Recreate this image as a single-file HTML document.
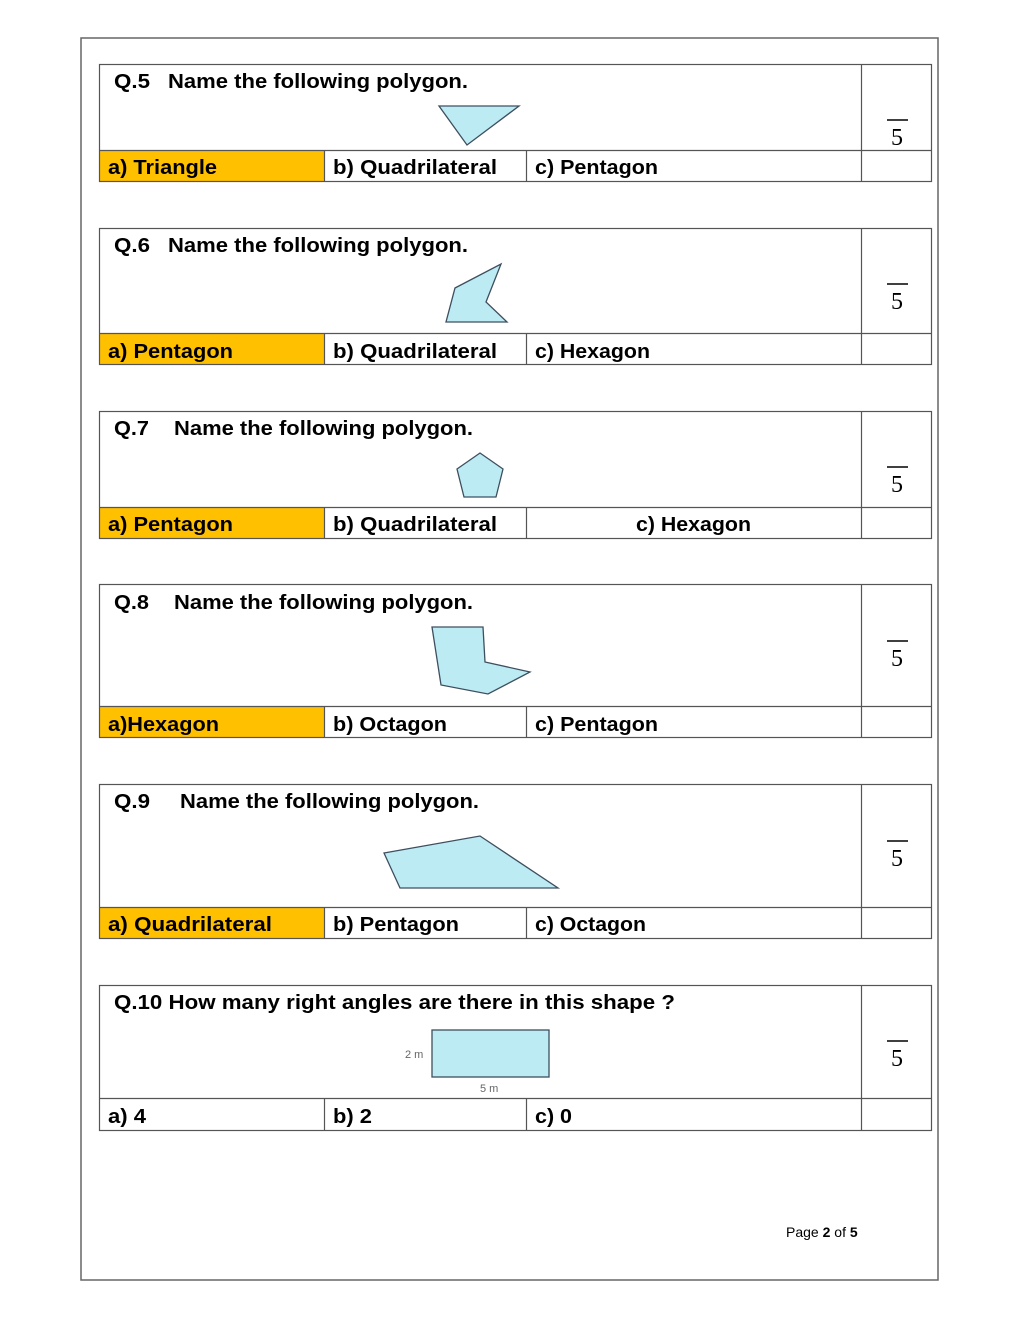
<!DOCTYPE html>
<html><head><meta charset="utf-8"><style>
html,body{margin:0;padding:0;background:#fff;}
svg{display:block;}
text{font-family:"Liberation Sans",sans-serif;font-weight:bold;fill:#000;}
.q{font-size:20px;}
.a{font-size:20px;}
.s{font-family:"Liberation Serif",serif;font-weight:normal;font-size:24px;}
.sh{fill:#BDEBF4;stroke:#3d4f5f;stroke-width:1.3;}
.ln{stroke:#555;stroke-width:1.2;fill:none;}
</style></head><body>
<svg width="1020" height="1320" viewBox="0 0 1020 1320" xmlns="http://www.w3.org/2000/svg">
<rect x="81" y="38" width="857" height="1242" fill="none" stroke="#666" stroke-width="1.5"/>

<!-- Q5 -->
<rect x="100" y="150" width="224" height="31" fill="#FFC000"/>
<rect x="99.5" y="64.5" width="832" height="117" class="ln"/>
<line x1="861.5" y1="64" x2="861.5" y2="181" class="ln"/>
<line x1="99" y1="150.5" x2="931" y2="150.5" class="ln"/>
<line x1="324.5" y1="150" x2="324.5" y2="181" class="ln"/>
<line x1="526.5" y1="150" x2="526.5" y2="181" class="ln"/>
<text x="114" y="88" class="q" textLength="36" lengthAdjust="spacingAndGlyphs">Q.5</text>
<text x="168" y="88" class="q" textLength="300" lengthAdjust="spacingAndGlyphs">Name the following polygon.</text>
<polygon points="439,106 519,106 467,145" class="sh"/>
<text x="108" y="174" class="a" textLength="109" lengthAdjust="spacingAndGlyphs">a) Triangle</text>
<text x="333" y="174" class="a" textLength="164" lengthAdjust="spacingAndGlyphs">b) Quadrilateral</text>
<text x="535" y="174" class="a" textLength="123" lengthAdjust="spacingAndGlyphs">c) Pentagon</text>
<line x1="887" y1="120" x2="908" y2="120" stroke="#000" stroke-width="1.5"/>
<text x="897" y="145" class="s" text-anchor="middle">5</text>

<!-- Q6 -->
<rect x="100" y="333" width="224" height="31" fill="#FFC000"/>
<rect x="99.5" y="228.5" width="832" height="136" class="ln"/>
<line x1="861.5" y1="228" x2="861.5" y2="364" class="ln"/>
<line x1="99" y1="333.5" x2="931" y2="333.5" class="ln"/>
<line x1="324.5" y1="333" x2="324.5" y2="364" class="ln"/>
<line x1="526.5" y1="333" x2="526.5" y2="364" class="ln"/>
<text x="114" y="252" class="q" textLength="36" lengthAdjust="spacingAndGlyphs">Q.6</text>
<text x="168" y="252" class="q" textLength="300" lengthAdjust="spacingAndGlyphs">Name the following polygon.</text>
<polygon points="501,264 486,302 507,322 446,322 455,288" class="sh"/>
<text x="108" y="358" class="a" textLength="125" lengthAdjust="spacingAndGlyphs">a) Pentagon</text>
<text x="333" y="358" class="a" textLength="164" lengthAdjust="spacingAndGlyphs">b) Quadrilateral</text>
<text x="535" y="358" class="a" textLength="115" lengthAdjust="spacingAndGlyphs">c) Hexagon</text>
<line x1="887" y1="284" x2="908" y2="284" stroke="#000" stroke-width="1.5"/>
<text x="897" y="309" class="s" text-anchor="middle">5</text>

<!-- Q7 -->
<rect x="100" y="507" width="224" height="31" fill="#FFC000"/>
<rect x="99.5" y="411.5" width="832" height="127" class="ln"/>
<line x1="861.5" y1="411" x2="861.5" y2="538" class="ln"/>
<line x1="99" y1="507.5" x2="931" y2="507.5" class="ln"/>
<line x1="324.5" y1="507" x2="324.5" y2="538" class="ln"/>
<line x1="526.5" y1="507" x2="526.5" y2="538" class="ln"/>
<text x="114" y="435" class="q" textLength="35" lengthAdjust="spacingAndGlyphs">Q.7</text>
<text x="174" y="435" class="q" textLength="299" lengthAdjust="spacingAndGlyphs">Name the following polygon.</text>
<polygon points="480,453 503,469 496,497 464,497 457,469" class="sh"/>
<text x="108" y="531" class="a" textLength="125" lengthAdjust="spacingAndGlyphs">a) Pentagon</text>
<text x="333" y="531" class="a" textLength="164" lengthAdjust="spacingAndGlyphs">b) Quadrilateral</text>
<text x="636" y="531" class="a" textLength="115" lengthAdjust="spacingAndGlyphs">c) Hexagon</text>
<line x1="887" y1="467" x2="908" y2="467" stroke="#000" stroke-width="1.5"/>
<text x="897" y="492" class="s" text-anchor="middle">5</text>

<!-- Q8 -->
<rect x="100" y="706" width="224" height="31" fill="#FFC000"/>
<rect x="99.5" y="584.5" width="832" height="153" class="ln"/>
<line x1="861.5" y1="584" x2="861.5" y2="737" class="ln"/>
<line x1="99" y1="706.5" x2="931" y2="706.5" class="ln"/>
<line x1="324.5" y1="706" x2="324.5" y2="737" class="ln"/>
<line x1="526.5" y1="706" x2="526.5" y2="737" class="ln"/>
<text x="114" y="609" class="q" textLength="35" lengthAdjust="spacingAndGlyphs">Q.8</text>
<text x="174" y="609" class="q" textLength="299" lengthAdjust="spacingAndGlyphs">Name the following polygon.</text>
<polygon points="432,627 483,627 485,662 530,672 488,694 441,685" class="sh"/>
<text x="108" y="731" class="a" textLength="111" lengthAdjust="spacingAndGlyphs">a)Hexagon</text>
<text x="333" y="731" class="a" textLength="114" lengthAdjust="spacingAndGlyphs">b) Octagon</text>
<text x="535" y="731" class="a" textLength="123" lengthAdjust="spacingAndGlyphs">c) Pentagon</text>
<line x1="887" y1="641" x2="908" y2="641" stroke="#000" stroke-width="1.5"/>
<text x="897" y="666" class="s" text-anchor="middle">5</text>

<!-- Q9 -->
<rect x="100" y="907" width="224" height="31" fill="#FFC000"/>
<rect x="99.5" y="784.5" width="832" height="154" class="ln"/>
<line x1="861.5" y1="784" x2="861.5" y2="938" class="ln"/>
<line x1="99" y1="907.5" x2="931" y2="907.5" class="ln"/>
<line x1="324.5" y1="907" x2="324.5" y2="938" class="ln"/>
<line x1="526.5" y1="907" x2="526.5" y2="938" class="ln"/>
<text x="114" y="808" class="q" textLength="36" lengthAdjust="spacingAndGlyphs">Q.9</text>
<text x="180" y="808" class="q" textLength="299" lengthAdjust="spacingAndGlyphs">Name the following polygon.</text>
<polygon points="384,853 480,836 558,888 400,888" class="sh"/>
<text x="108" y="931" class="a" textLength="164" lengthAdjust="spacingAndGlyphs">a) Quadrilateral</text>
<text x="333" y="931" class="a" textLength="126" lengthAdjust="spacingAndGlyphs">b) Pentagon</text>
<text x="535" y="931" class="a" textLength="111" lengthAdjust="spacingAndGlyphs">c) Octagon</text>
<line x1="887" y1="841" x2="908" y2="841" stroke="#000" stroke-width="1.5"/>
<text x="897" y="866" class="s" text-anchor="middle">5</text>

<!-- Q10 -->
<rect x="99.5" y="985.5" width="832" height="145" class="ln"/>
<line x1="861.5" y1="985" x2="861.5" y2="1130" class="ln"/>
<line x1="99" y1="1098.5" x2="931" y2="1098.5" class="ln"/>
<line x1="324.5" y1="1098" x2="324.5" y2="1130" class="ln"/>
<line x1="526.5" y1="1098" x2="526.5" y2="1130" class="ln"/>
<text x="114" y="1009" class="q" textLength="561" lengthAdjust="spacingAndGlyphs">Q.10  How many right angles are there in  this shape ?</text>
<rect x="432" y="1030" width="117" height="47" class="sh"/>
<text x="405" y="1058" style="font-weight:normal;font-size:11px;fill:#666">2 m</text>
<text x="480" y="1092" style="font-weight:normal;font-size:11px;fill:#666">5 m</text>
<text x="108" y="1123" class="a" textLength="38" lengthAdjust="spacingAndGlyphs">a) 4</text>
<text x="333" y="1123" class="a" textLength="39" lengthAdjust="spacingAndGlyphs">b) 2</text>
<text x="535" y="1123" class="a" textLength="37" lengthAdjust="spacingAndGlyphs">c) 0</text>
<line x1="887" y1="1041" x2="908" y2="1041" stroke="#000" stroke-width="1.5"/>
<text x="897" y="1066" class="s" text-anchor="middle">5</text>

<text x="786" y="1237" style="font-weight:normal;font-size:14px">Page <tspan style="font-weight:bold">2</tspan> of <tspan style="font-weight:bold">5</tspan></text>
</svg>
</body></html>
